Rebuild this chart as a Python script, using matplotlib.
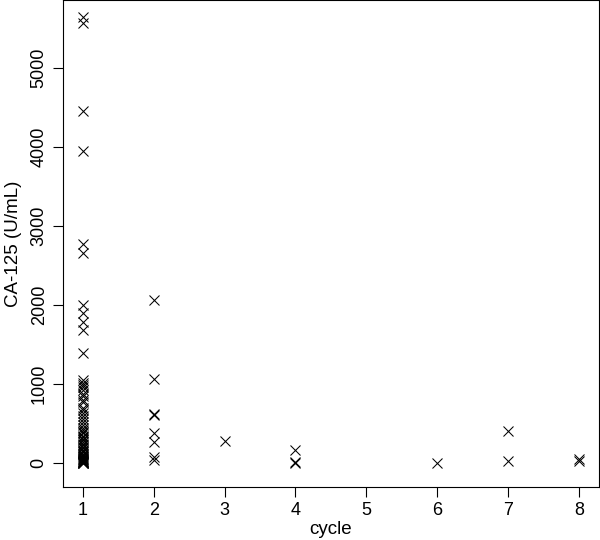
import numpy as np
import matplotlib.pyplot as plt

plt.rcParams['font.family'] = ['Liberation Sans', 'DejaVu Sans']

# CA-125 values, grouped by treatment cycle
cycle1 = [5650, 5570, 4450, 3950, 2780, 2660, 2000, 1900, 1790, 1690, 1400,
          1050, 1020, 990, 960, 930, 880, 850, 800, 770, 700, 680, 640, 600,
          560, 520, 480, 450, 420, 400, 380, 350, 330, 310, 290, 270, 250,
          230, 210, 190, 170, 150, 140, 120, 100, 90, 80, 70, 60, 50, 40, 30,
          25, 20, 15, 12, 10, 8, 5]
cycle2 = [2060, 1070, 620, 610, 380, 270, 80, 40]
cycle3 = [280]
cycle4 = [170, 20, 10]
cycle6 = [10]
cycle7 = [410, 30]
cycle8 = [60, 30]

groups = {1: cycle1, 2: cycle2, 3: cycle3, 4: cycle4, 6: cycle6, 7: cycle7, 8: cycle8}

x = np.concatenate([[c] * len(v) for c, v in groups.items()])
y = np.concatenate([v for v in groups.values()])

fig = plt.figure(figsize=(6, 5.4), dpi=100)
ax = fig.add_axes([0.105, 0.098, 0.893, 0.902])

ax.plot(x, y, linestyle="none", marker="x", color="black",
        markersize=6.5, markeredgewidth=0.75)

ax.set_xlim(0.72, 8.28)
ax.set_ylim(-300, 5860)
ax.set_xticks(range(1, 9))
ax.set_yticks(range(0, 6000, 1000))
ax.tick_params(direction="out", length=7, width=0.8, labelsize=13, pad=4)
for lbl in ax.get_yticklabels():
    lbl.set_rotation(90)
    lbl.set_va("center")
for s in ax.spines.values():
    s.set_linewidth(0.8)

ax.set_xlabel("cycle", fontsize=13.5, labelpad=1)
ax.set_ylabel("CA-125 (U/mL)", fontsize=13.5, labelpad=6)

fig.savefig("out.png", dpi=100)
